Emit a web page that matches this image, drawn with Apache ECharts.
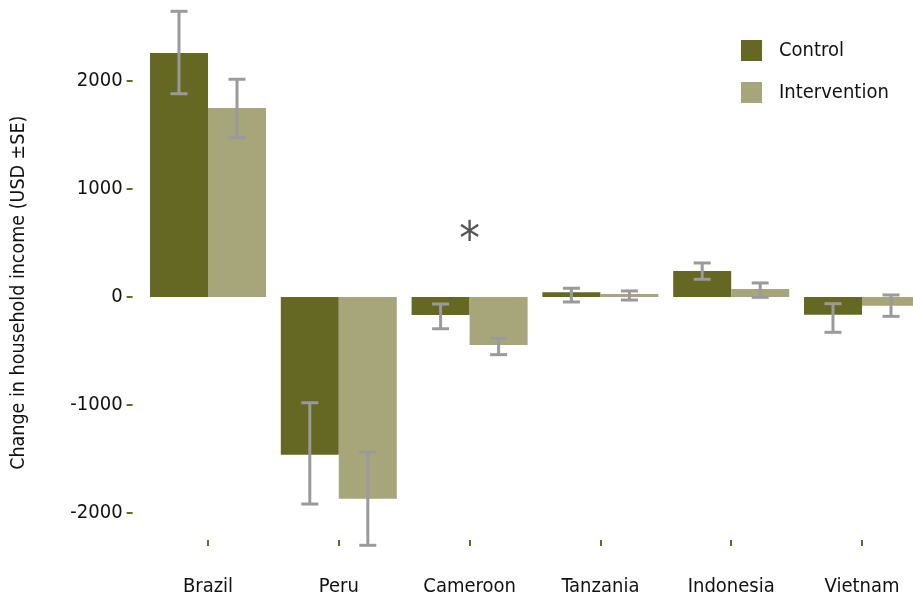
<!DOCTYPE html>
<html>
<head>
<meta charset="utf-8">
<script src="https://cdn.jsdelivr.net/npm/echarts@6/dist/echarts.min.js"></script>
<style>
  html, body { margin: 0; padding: 0; background: #ffffff; }
  #chart { width: 913px; height: 597px; }
</style>
</head>
<body>
<div id="chart"></div>
<script>
// Change in household income by country (USD, mean ± SE)
const countries = ['Brazil', 'Peru', 'Cameroon', 'Tanzania', 'Indonesia', 'Vietnam'];

const controlMean = [2259, -1460, -167, 44, 241, -164];
const controlLow  = [1882, -1917, -294, -46, 164, -327];
const controlHigh = [2645, -979, -65, 81, 315, -62];

const interventionMean = [1750, -1868, -444, 28, 74, -81];
const interventionLow  = [1475, -2299, -534, -28, -3, -179];
const interventionHigh = [2016, -1435, -382, 56, 130, 19];

const yTicks = [-2000, -1000, 0, 1000, 2000];

// significance marker
const starCountry = 'Cameroon';
const starValue = 510;

const FONT = '"DejaVu Sans Condensed", "DejaVu Sans", sans-serif';
const OLIVE = '#646822';
const SAGE = '#a7a57a';
const ERR = '#9a9a9c';
const CAT_GAP = 0.113;

function errorSeries(name, low, high, side) {
  return {
    type: 'custom',
    name: name,
    z: 5,
    silent: true,
    data: countries.map((c, i) => [i, low[i], high[i]]),
    encode: { x: 0, y: [1, 2] },
    renderItem: function (params, api) {
      const i = api.value(0);
      const band = api.size([1, 0])[0];
      const barW = band * (1 - CAT_GAP) / 2;
      const lo = api.coord([i, api.value(1)]);
      const hi = api.coord([i, api.value(2)]);
      const x = lo[0] + side * barW / 2;
      const cap = 8.5;
      const st = { stroke: ERR, lineWidth: 3 };
      return {
        type: 'group',
        children: [
          { type: 'line', shape: { x1: x, y1: hi[1], x2: x, y2: lo[1] }, style: st },
          { type: 'line', shape: { x1: x - cap, y1: hi[1], x2: x + cap, y2: hi[1] }, style: st },
          { type: 'line', shape: { x1: x - cap, y1: lo[1], x2: x + cap, y2: lo[1] }, style: st }
        ]
      };
    }
  };
}

const chart = echarts.init(document.getElementById('chart'), null, { renderer: 'canvas' });

chart.setOption({
  animation: false,
  backgroundColor: '#ffffff',
  grid: {
    left: 142.6, width: 784.8, top: 5.4, height: 534.6,
    containLabel: false,
    outerBoundsMode: 'none'
  },
  legend: {
    orient: 'vertical',
    left: 741,
    top: 40,
    padding: 0,
    itemWidth: 21,
    itemHeight: 21,
    itemGap: 21,
    icon: 'rect',
    data: ['Control', 'Intervention'],
    textStyle: { fontFamily: FONT, fontSize: 20, color: '#111111', padding: [0, 0, 0, 12] }
  },
  xAxis: {
    type: 'category',
    data: countries,
    axisLine: { show: false, onZero: false },
    axisTick: { show: true, alignWithLabel: true, length: 6, lineStyle: { color: OLIVE, width: 2 } },
    axisLabel: { fontFamily: FONT, fontSize: 20, color: '#111111', margin: 37 },
    splitLine: { show: false }
  },
  yAxis: {
    type: 'value',
    min: -2250,
    max: 2700,
    offset: 10,
    name: 'Change in household income (USD ±SE)',
    nameLocation: 'middle',
    nameGap: 104,
    nameTextStyle: { fontFamily: FONT, fontSize: 19.5, color: '#111111', padding: [0, 40, 0, 0] },
    axisLine: { show: false },
    axisTick: { show: true, length: 6, customValues: yTicks, lineStyle: { color: OLIVE, width: 2 } },
    axisLabel: {
      fontFamily: FONT, fontSize: 20, color: '#111111', margin: 10,
      customValues: yTicks,
      formatter: function (v) { return String(v); }
    },
    splitLine: { show: false }
  },
  series: [
    {
      name: 'Control',
      type: 'bar',
      data: controlMean,
      barGap: '0%',
      barCategoryGap: (CAT_GAP * 100) + '%',
      itemStyle: { color: OLIVE }
    },
    {
      name: 'Intervention',
      type: 'bar',
      data: interventionMean,
      itemStyle: { color: SAGE }
    },
    errorSeries('controlErr', controlLow, controlHigh, -1),
    errorSeries('interventionErr', interventionLow, interventionHigh, 1),
    {
      type: 'custom',
      name: 'significance',
      silent: true,
      z: 6,
      data: [[countries.indexOf(starCountry), starValue]],
      renderItem: function (params, api) {
        const p = api.coord([api.value(0), api.value(1)]);
        return {
          type: 'text',
          x: p[0],
          y: p[1],
          style: { text: '*', fill: '#555555', fontSize: 46, fontFamily: FONT, align: 'center', verticalAlign: 'middle' }
        };
      }
    }
  ]
});
</script>
</body>
</html>
